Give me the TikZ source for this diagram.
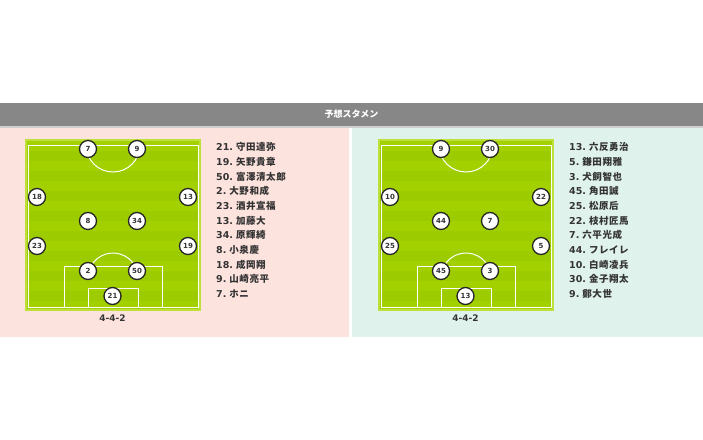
\documentclass[tikz,border=0pt]{standalone}
\usepackage{fontspec}
\setmainfont{DejaVu Sans}
\newfontfamily\jp{Noto Sans CJK JP}
\newfontfamily\jplist[LetterSpace=6]{Noto Sans CJK JP}
\definecolor{hdrgray}{HTML}{878787}
\definecolor{hdrline}{HTML}{CFCFCF}
\definecolor{pinkbg}{HTML}{FDE3DE}
\definecolor{mintbg}{HTML}{DFF2EB}
\definecolor{pitchborder}{HTML}{BEE03A}
\definecolor{fieldA}{HTML}{A3D100}
\definecolor{fieldB}{HTML}{9CCB00}
\definecolor{txt}{HTML}{333333}
\tikzset{
  player/.style={circle, draw=black!85, line width=1.3pt, fill=white, minimum size=17pt, inner sep=0pt,
    font=\bfseries\fontsize{7}{7}\selectfont, text=txt},
  pline/.style={draw=white, line width=1pt},
  listitem/.style={anchor=west, inner sep=0pt, font=\fontsize{9.5}{9.5}\selectfont, text=txt},
  formlabel/.style={inner sep=0pt, font=\bfseries\fontsize{9}{9}\selectfont, text=txt},
}
\newcommand{\pitchdraw}{%
  \fill[pitchborder] (25,139) rectangle (201,311);
  \fill[fieldA] (27,141) rectangle (199,309);
  \foreach \yy in {151,171,...,291} {\fill[fieldB] (27,\yy) rectangle (199,\yy+10);}
  \draw[pline] (28.5,145) rectangle (198,307);
  \draw[pline] (140,145) arc[start angle=0, end angle=180, radius=27];
  \draw[pline] (64,307) -- (64,266) -- (162,266) -- (162,307);
  \draw[pline] (88,307) -- (88,288) -- (138,288) -- (138,307);
  \draw[pline] (113,278) ++(208.7:25) arc[start angle=208.7, end angle=331.3, radius=25];
}
\begin{document}
\begin{tikzpicture}[x=1pt,y=-1pt]
\useasboundingbox (0,0) rectangle (703,439);
\fill[white] (0,0) rectangle (703,439);
% header
\fill[hdrgray] (0,103) rectangle (703,126);
\fill[hdrline] (0,126) rectangle (703,128);
\node[inner sep=0pt, text=white, font=\jp\bfseries\fontsize{9}{9}\selectfont] (hdr) at (351.5,114.5) {予想スタメン};
% panels
\fill[pinkbg] (0,128) rectangle (349,337);
\fill[mintbg] (352,128) rectangle (703,337);
% left pitch
\begin{scope}
\pitchdraw
\node[player] (L7) at (88,149) {7};
\node[player] (L9) at (137,149) {9};
\node[player] (L18) at (37,197) {18};
\node[player] (L13) at (188,197) {13};
\node[player] (L8) at (88,221) {8};
\node[player] (L34) at (137,221) {34};
\node[player] (L23) at (37,246) {23};
\node[player] (L19) at (188,246) {19};
\node[player] (L2) at (88,271) {2};
\node[player] (L50) at (137,271) {50};
\node[player] (L21) at (112.5,296) {21};
\node[formlabel] (Lform) at (112.5,318.5) {4-4-2};
\end{scope}
% right pitch
\begin{scope}[xshift=353pt]
\pitchdraw
\node[player] (R9) at (88,149) {9};
\node[player] (R30) at (137,149) {30};
\node[player] (R10) at (37,197) {10};
\node[player] (R22) at (188,197) {22};
\node[player] (R44) at (88,221) {44};
\node[player] (R7) at (137,221) {7};
\node[player] (R25) at (37,246) {25};
\node[player] (R5) at (188,246) {5};
\node[player] (R45) at (88,271) {45};
\node[player] (R3) at (137,271) {3};
\node[player] (R13) at (112.5,296) {13};
\node[formlabel] (Rform) at (112.5,318.5) {4-4-2};
\end{scope}
% left list
\foreach \n/\num/\nm in {0/21/守田達弥,1/19/矢野貴章,2/50/富澤清太郎,3/2/大野和成,4/23/酒井宣福,5/13/加藤大,6/34/原輝綺,7/8/小泉慶,8/18/成岡翔,9/9/山崎亮平,10/7/ホニ} {
  \node[listitem] (LL\n) at (216,147+14.7*\n) {\textbf{\num.}\hspace{3pt}{\jplist\bfseries\nm}};
}
% right list
\foreach \n/\num/\nm in {0/13/六反勇治,1/5/鎌田翔雅,2/3/犬飼智也,3/45/角田誠,4/25/松原后,5/22/枝村匠馬,6/7/六平光成,7/44/フレイレ,8/10/白崎凌兵,9/30/金子翔太,10/9/鄭大世} {
  \node[listitem] (RL\n) at (569,147+14.7*\n) {\textbf{\num.}\hspace{3pt}{\jplist\bfseries\nm}};
}
\end{tikzpicture}
\end{document}
